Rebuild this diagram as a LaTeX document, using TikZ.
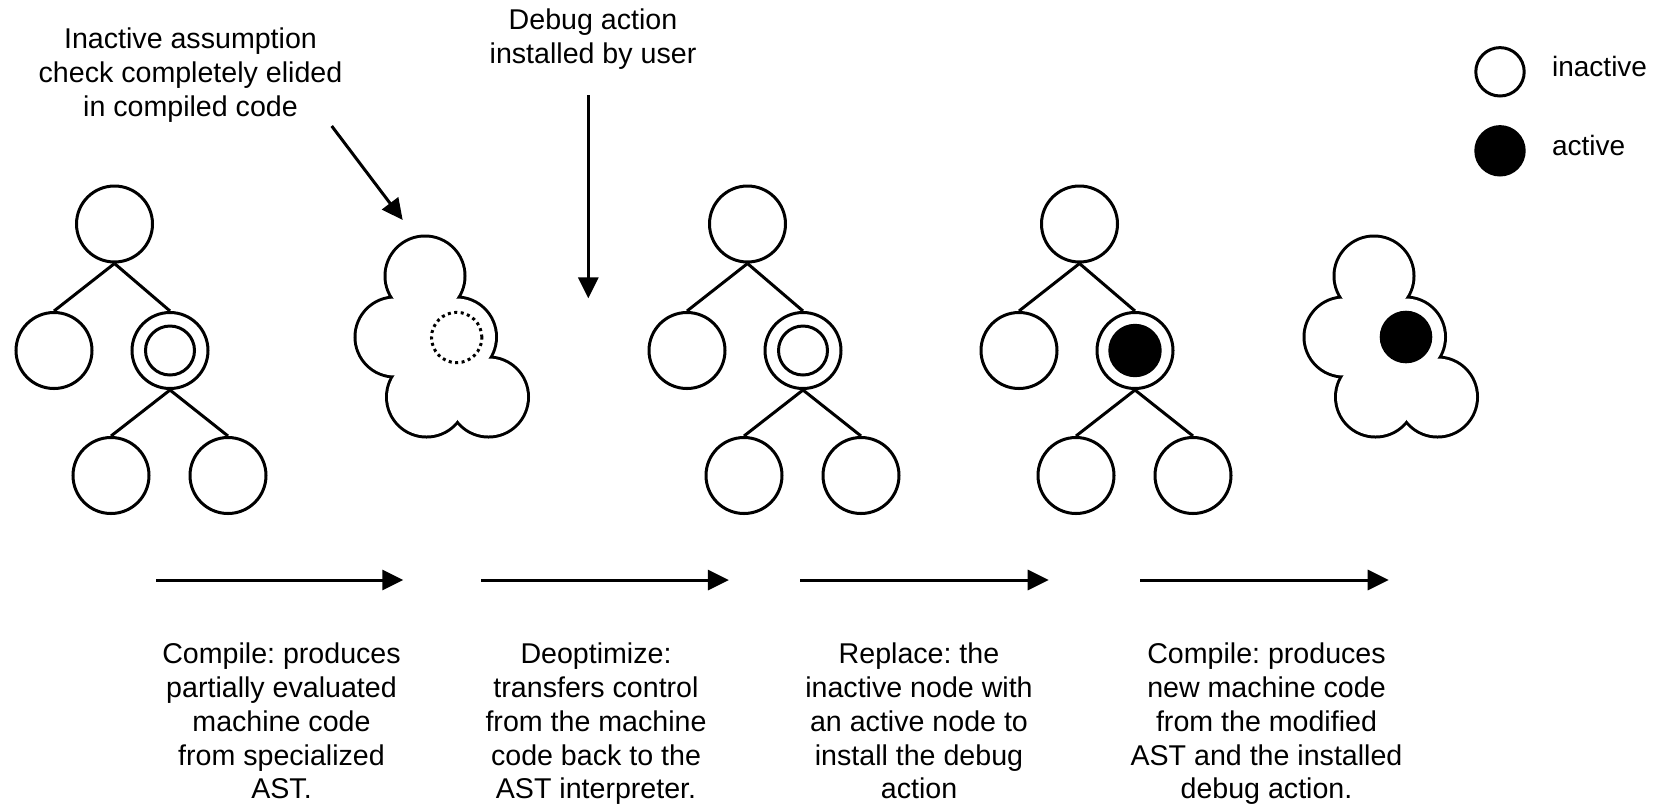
\documentclass[tikz,border=0pt]{standalone}
\usepackage{fontspec}
\setmainfont{Liberation Sans}
\frenchspacing
\usetikzlibrary{arrows.meta}
\tikzset{
  tn/.style={circle, draw=black, line width=1.5pt, minimum size=38pt, inner sep=0pt},
  tin/.style={circle, draw=black, line width=1.5pt, minimum size=24.5pt, inner sep=0pt},
  tact/.style={circle, draw=black, fill=black, line width=1.5pt, minimum size=25.2pt, inner sep=0pt},
  conn/.style={line width=1.5pt},
  arr/.style={line width=1.5pt, -{Triangle[length=10.5pt,width=10pt]}},
  lbl/.style={font=\fontsize{14.3pt}{16.9pt}\selectfont, align=center, inner sep=0pt, anchor=north},
  leg/.style={font=\fontsize{14pt}{16.9pt}\selectfont, inner sep=0pt, anchor=base west},
  lobe/.style={line width=3pt},
  legc/.style={circle, draw=black, line width=1.5pt, minimum size=24.2pt, inner sep=0pt},
}
\newcommand\asttree[3]{%
  \node[tn] (#1r) at (#2,224) {};
  \node[tn] (#1l) at ({#2-60.5},350.5) {};
  \node[tn] (#1d) at ({#2+55.5},350.5) {};
  \node[#3] (#1i) at (#1d) {};
  \node[tn] (#1bl) at ({#2-3.5},475.5) {};
  \node[tn] (#1br) at ({#2+113.5},475.5) {};
  \draw[conn] (#1r.south) -- (#1l.north);
  \draw[conn] (#1r.south) -- (#1d.north);
  \draw[conn] (#1d.south) -- (#1bl.north);
  \draw[conn] (#1d.south) -- (#1br.north);
}
\newcommand\cloudshape[1]{%
  \foreach \cx/\cy in {425/276, 395/337, 456.5/337, 426.5/397, 488.5/397}
    \draw[lobe] ({\cx+#1},\cy) circle[radius=19.25pt];
  \foreach \cx/\cy in {425/276, 395/337, 456.5/337, 426.5/397, 488.5/397}
    \fill[white] ({\cx+#1},\cy) circle[radius=19.25pt];
}
\begin{document}
\begin{tikzpicture}[x=0.5pt,y=-0.5pt]
\useasboundingbox (0,0) rectangle (1666,805);

% trees
\asttree{a}{114.5}{tin}
\asttree{b}{747.5}{tin}
\asttree{c}{1079.5}{tact}

% clouds
\cloudshape{0}
\draw[line width=1.5pt, dash pattern=on 1.5pt off 1.75pt] (456.7,337.5) circle[radius=12.6pt];
\cloudshape{949}
\fill[black] (1406,337) circle[radius=13.15pt];

% legend
\node[legc] (legin) at (1500,71.8) {};
\node[legc, fill=black] (legac) at (1500,150.8) {};
\node[leg] (legint) at (1551.7,76.7) {inactive};
\node[leg] (legact) at (1551.7,155) {active};

% top labels and arrows
\node[lbl] (elided) at (190.5,27.5) {Inactive assumption\\check completely elided\\in compiled code};
\coordinate (d1s) at (331.7,126);
\coordinate (d1e) at (402.7,220);
\draw[arr] (d1s) -- (d1e);

\node[lbl] (debug) at (593,8.5) {Debug action\\installed by user};
\coordinate (d2s) at (588.3,95);
\coordinate (d2e) at (588.3,298.3);
\draw[arr] (d2s) -- (d2e);

% step arrows
\coordinate (s1s) at (156,580);   \coordinate (s1e) at (403.3,580);
\coordinate (s2s) at (481.3,580); \coordinate (s2e) at (728.9,580);
\coordinate (s3s) at (800,580);   \coordinate (s3e) at (1048.7,580);
\coordinate (s4s) at (1140,580);  \coordinate (s4e) at (1388.7,580);
\draw[arr] (s1s) -- (s1e);
\draw[arr] (s2s) -- (s2e);
\draw[arr] (s3s) -- (s3e);
\draw[arr] (s4s) -- (s4e);

% step labels
\node[lbl] (t1) at (281.5,642.5) {Compile: produces\\partially evaluated\\machine code\\from specialized\\AST.};
\node[lbl] (t2) at (596,642.5) {Deoptimize:\\transfers control\\from the machine\\code back to the\\AST interpreter.};
\node[lbl] (t3) at (919,642.5) {Replace: the\\inactive node with\\an active node to\\install the debug\\action};
\node[lbl] (t4) at (1266.5,642.5) {Compile: produces\\new machine code\\from the modified\\AST and the installed\\debug action.};
\end{tikzpicture}
\end{document}
